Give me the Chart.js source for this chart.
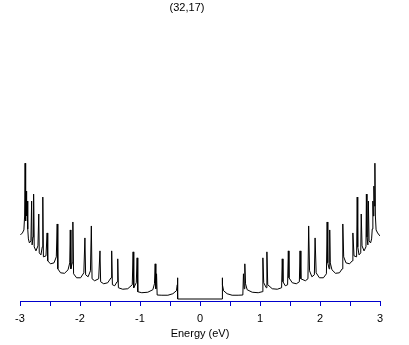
<!DOCTYPE html>
<html>
<head>
<meta charset="utf-8">
<script src="https://cdn.jsdelivr.net/npm/chart.js@4"></script>
<style>
  html, body { margin: 0; padding: 0; background: #fff; }
</style>
</head>
<body>
<canvas id="dos" width="409" height="345"></canvas>
<script>
// (32,17) nanotube DOS
const titulo = '(32,17)';
const eixoX = 'Energy (eV)';

// valence side (E < 0)
const energiaEsq = [
  -2.993, -2.960, -2.935, -2.923, -2.915, -2.906, -2.898, -2.890, -2.881, -2.871,
  -2.860, -2.843, -2.818, -2.806, -2.798, -2.783, -2.773, -2.763, -2.734, -2.701,
  -2.687, -2.679, -2.651, -2.629, -2.620, -2.610, -2.567, -2.548, -2.538, -2.492,
  -2.433, -2.395, -2.380, -2.370, -2.324, -2.258, -2.199, -2.171, -2.162, -2.152,
  -2.130, -2.119, -2.107, -2.057, -1.990, -1.936, -1.918, -1.906, -1.865, -1.826,
  -1.811, -1.799, -1.756, -1.689, -1.667, -1.656, -1.605, -1.538, -1.483, -1.472,
  -1.460, -1.421, -1.383, -1.371, -1.360, -1.288, -1.204, -1.129, -1.115, -1.104,
  -1.062, -1.048, -1.037, -0.970, -0.870, -0.786, -0.759, -0.747, -0.736, -0.724,
  -0.714, -0.635, -0.535, -0.452, -0.393, -0.378, -0.373, -0.372
];
const dosEsq = [
  0.643, 0.663, 0.693, 0.833, 1.363, 0.783, 1.083, 0.833, 0.983, 0.703,
  0.603, 0.563, 0.583, 0.983, 0.543, 0.623, 1.053, 0.523, 0.483, 0.533,
  0.853, 0.463, 0.443, 0.523, 1.023, 0.423, 0.433, 0.663, 0.383, 0.353,
  0.363, 0.423, 0.753, 0.303, 0.263, 0.258, 0.293, 0.363, 0.693, 0.303,
  0.363, 0.773, 0.253, 0.213, 0.213, 0.263, 0.613, 0.243, 0.223, 0.283,
  0.733, 0.203, 0.183, 0.203, 0.483, 0.173, 0.153, 0.163, 0.213, 0.483,
  0.143, 0.133, 0.173, 0.403, 0.113, 0.098, 0.103, 0.143, 0.473, 0.113,
  0.163, 0.413, 0.073, 0.063, 0.068, 0.093, 0.153, 0.353, 0.103, 0.253,
  0.040, 0.038, 0.038, 0.053, 0.083, 0.143, 0.213, 0
];

// conduction side (E > 0)
const energiaDir = [
  0.368, 0.369, 0.378, 0.393, 0.452, 0.535, 0.635, 0.714, 0.724, 0.736,
  0.747, 0.759, 0.786, 0.870, 0.970, 1.037, 1.048, 1.062, 1.104, 1.115,
  1.129, 1.204, 1.288, 1.360, 1.371, 1.383, 1.421, 1.460, 1.472, 1.483,
  1.538, 1.605, 1.656, 1.667, 1.681, 1.756, 1.799, 1.811, 1.826, 1.865,
  1.906, 1.918, 1.936, 1.990, 2.057, 2.107, 2.119, 2.130, 2.152, 2.162,
  2.171, 2.199, 2.258, 2.324, 2.370, 2.380, 2.395, 2.433, 2.492, 2.538,
  2.548, 2.567, 2.610, 2.620, 2.629, 2.651, 2.679, 2.687, 2.701, 2.734,
  2.766, 2.773, 2.783, 2.798, 2.806, 2.818, 2.843, 2.860, 2.871, 2.881,
  2.890, 2.898, 2.906, 2.915, 2.923, 2.935, 2.960, 2.998
];
const dosDir = [
  0, 0.213, 0.143, 0.083, 0.053, 0.038, 0.038, 0.040, 0.253, 0.103,
  0.353, 0.153, 0.093, 0.068, 0.063, 0.073, 0.413, 0.163, 0.113, 0.473,
  0.143, 0.103, 0.098, 0.113, 0.403, 0.173, 0.133, 0.143, 0.483, 0.213,
  0.163, 0.153, 0.173, 0.483, 0.203, 0.183, 0.203, 0.733, 0.283, 0.223,
  0.243, 0.613, 0.263, 0.213, 0.213, 0.253, 0.773, 0.363, 0.303, 0.693,
  0.363, 0.293, 0.258, 0.263, 0.303, 0.753, 0.423, 0.363, 0.353, 0.383,
  0.663, 0.433, 0.423, 1.023, 0.523, 0.443, 0.463, 0.853, 0.533, 0.483,
  0.523, 1.053, 0.623, 0.543, 0.983, 0.583, 0.563, 0.603, 0.703, 0.983,
  0.833, 1.133, 0.933, 1.363, 0.833, 0.693, 0.663, 0.633
];

const energia = energiaEsq.concat(energiaDir);
const dos = dosEsq.concat(dosDir);

const AZUL = '#0000cc';

const tituloTopo = {
  id: 'tituloTopo',
  afterDraw(chart) {
    const ctx = chart.ctx;
    ctx.save();
    ctx.font = '11px "Liberation Sans", Arial, sans-serif';
    ctx.fillStyle = '#000';
    ctx.textAlign = 'center';
    ctx.textBaseline = 'middle';
    ctx.fillText(titulo, 187, 8);
    ctx.restore();
  }
};

const config = {
  type: 'line',
  data: {
    datasets: [{
      data: energia.map((e, i) => ({ x: e, y: dos[i] })),
      borderColor: '#000',
      borderWidth: 1,
      pointRadius: 0,
      tension: 0,
      fill: false
    }]
  },
  options: {
    responsive: false,
    animation: false,
    layout: { padding: { left: 20, right: 29, top: 20, bottom: 4 } },
    plugins: {
      legend: { display: false },
      tooltip: { enabled: false }
    },
    scales: {
      x: {
        type: 'linear',
        min: -3,
        max: 3,
        grid: { drawOnChartArea: false, drawTicks: true, tickLength: 5, color: AZUL },
        border: { display: true, color: AZUL, width: 1 },
        ticks: {
          stepSize: 0.5,
          autoSkip: false,
          maxRotation: 0,
          padding: 7,
          color: '#000',
          font: { family: '"Liberation Sans", Arial, sans-serif', size: 11, lineHeight: 1 },
          callback: (v) => Number.isInteger(v) ? String(v) : ''
        },
        title: {
          display: true,
          text: eixoX,
          color: '#000',
          font: { family: '"Liberation Sans", Arial, sans-serif', size: 11, lineHeight: 1 },
          padding: { top: -3, bottom: 2 }
        }
      },
      y: {
        display: false,
        min: -0.02,
        max: 2.8
      }
    }
  },
  plugins: [tituloTopo]
};

new Chart(document.getElementById('dos'), config);
</script>
</body>
</html>
